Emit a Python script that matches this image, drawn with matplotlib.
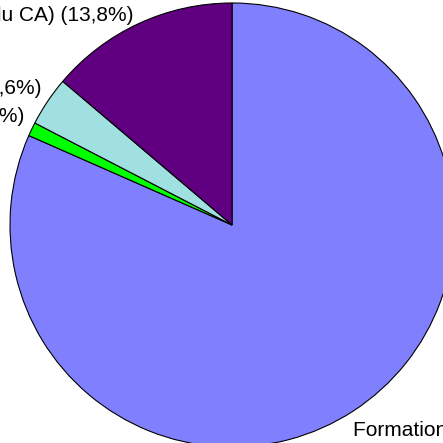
import matplotlib
matplotlib.use("Agg")
import matplotlib.pyplot as plt

labels = ["Formation", "Divers", "Autres", "Conseil (en % du CA)"]
shares = [81.6, 1.0, 3.6, 13.8]
colors = ["#8080FF", "#00FF00", "#A0E0E0", "#600080"]

plt.rcParams['font.family'] = ['Liberation Sans', 'DejaVu Sans']

fig = plt.figure(figsize=(4.43, 4.43), dpi=100)
ax = fig.add_axes([0, 0, 1, 1])

ax.pie(shares, colors=colors, startangle=90, counterclock=False,
       radius=1, center=(0, 0),
       wedgeprops=dict(edgecolor="black", linewidth=0.8))

# pie is bigger than the canvas, so part of it runs off the edges
ax.set_xlim(-1.045, 0.950)
ax.set_ylim(-0.982, 1.0135)
ax.set_aspect("auto")
ax.axis("off")

def lab(i):
    return "%s (%s%%)" % (labels[i], ("%.1f" % shares[i]).replace(".", ","))

fs = 15
ax.text(0.545, -0.950, lab(0), ha="left", va="baseline", fontsize=fs)
ax.text(-0.937, 0.464, lab(1), ha="right", va="baseline", fontsize=fs)
ax.text(-0.856, 0.590, lab(2), ha="right", va="baseline", fontsize=fs)
ax.text(-0.446, 0.919, lab(3), ha="right", va="baseline", fontsize=fs)

fig.savefig("out.png", dpi=100)
